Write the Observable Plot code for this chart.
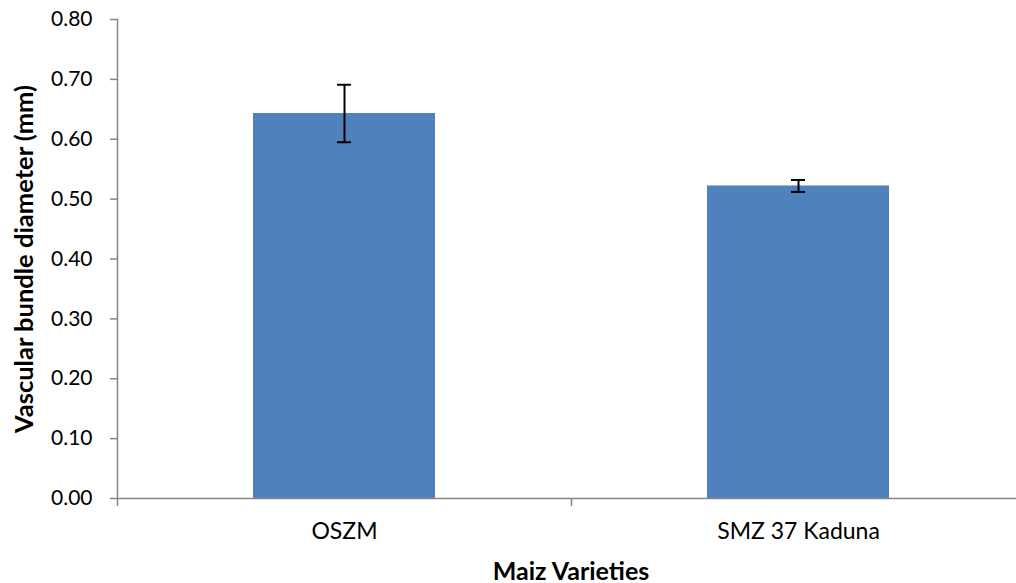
<!DOCTYPE html>
<html><head><meta charset="utf-8">
<script src="https://cdn.jsdelivr.net/npm/d3@7"></script>
<script src="https://cdn.jsdelivr.net/npm/@observablehq/plot@0.6"></script>
<style>body{margin:0;background:#fff}</style>
</head><body><div id="chart"></div>
<script>
const varieties = ["OSZM", "SMZ 37 Kaduna"];
const means = [0.643, 0.522];
const errors = [0.048, 0.010];
const yTicks = [0, 0.1, 0.2, 0.3, 0.4, 0.5, 0.6, 0.7, 0.8];
const xTitle = "Maiz Varieties";
const yTitle = "Vascular bundle diameter (mm)";

const data = varieties.map((v, i) => ({variety: v, mean: means[i], lo: means[i] - errors[i], hi: means[i] + errors[i]}));

const chart = Plot.plot({
  width: 1016, height: 583,
  marginLeft: 117, marginRight: 0, marginTop: 19, marginBottom: 85,
  style: {fontFamily: "Lato", background: "#fff", color: "#000"},
  x: {domain: varieties, range: [117, 1025], paddingInner: 0.6, paddingOuter: 0.3},
  y: {domain: [0, 0.8]},
  marks: [
    Plot.barY(data, {x: "variety", y: "mean", fill: "#4F81BD"}),
    Plot.ruleY([0], {stroke: "#868686", strokeWidth: 1.5}),
    Plot.frame({anchor: "left", stroke: "#868686", strokeWidth: 1.5}),
    Plot.axisY({ticks: yTicks, tickFormat: d => d.toFixed(2), tickSize: 7, tickPadding: 18, stroke: "#868686", strokeWidth: 1.5, fontSize: 21, fill: "#000", label: null}),
    Plot.axisX({tickSize: 8, tickFormat: () => "", dx: -227, stroke: "#868686", strokeWidth: 1.5, label: null}),
    Plot.axisX({tickSize: 0, tickPadding: 24, fontSize: 23, fill: "#000", label: null}),
    Plot.ruleX(data, {x: "variety", y1: "lo", y2: "hi", stroke: "#000", strokeWidth: 2}),
    Plot.tickY(data, {x: "variety", y: "lo", insetLeft: 84, insetRight: 84, stroke: "#000", strokeWidth: 2}),
    Plot.tickY(data, {x: "variety", y: "hi", insetLeft: 84, insetRight: 84, stroke: "#000", strokeWidth: 2}),
    Plot.text([xTitle], {frameAnchor: "bottom", dy: 81, dx: 4, fontWeight: "bold", fontSize: 25, fill: "#000"}),
    Plot.text([yTitle], {frameAnchor: "left", textAnchor: "middle", rotate: -90, dx: -93, fontWeight: "bold", fontSize: 25.5, fill: "#000"})
  ]
});
document.getElementById("chart").appendChild(chart);
</script>
</body></html>
